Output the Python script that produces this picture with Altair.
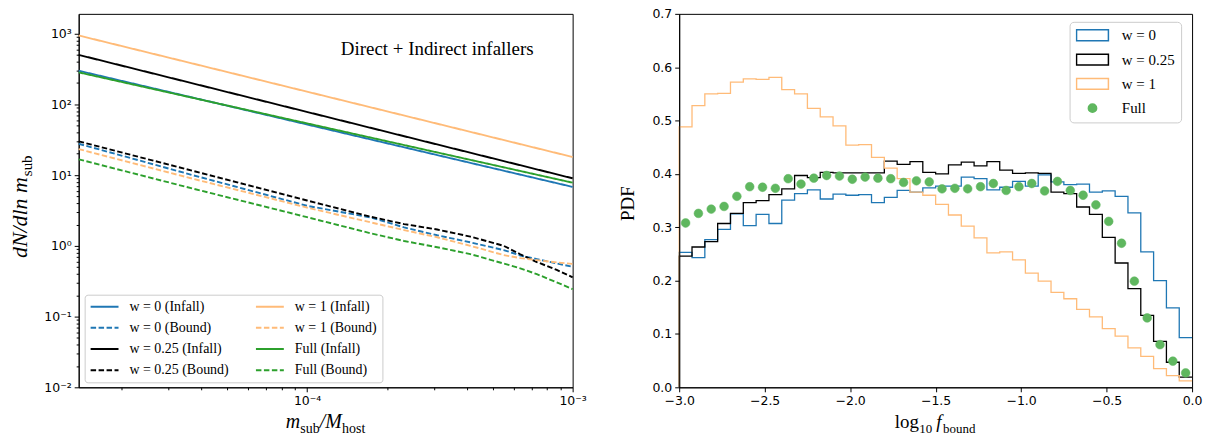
import altair as alt
import pandas as pd
import numpy as np

# ------------------------------------------------------------------
# Left panel: subhalo mass functions
# ------------------------------------------------------------------
m_solid = [1.38e-5, 1.0e-3]
w0_infall = [298.0, 6.8]
w025_infall = [500.0, 9.0]
w1_infall = [940.0, 18.0]
full_infall = [283.0, 7.8]

m_bound = [1.38e-5, 3.7e-5, 1.0e-4, 1.74e-4, 2.32e-4, 3.09e-4,
           4.12e-4, 5.5e-4, 6.35e-4, 7.33e-4, 8.71e-4, 1.0e-3]
w0_bound = [27.7, 10.0, 3.68, 2.51, 1.82, 1.41, 1.12, 0.871, 0.73, 0.649, 0.564, 0.505]
w025_bound = [30.0, 11.5, 4.37, 2.57, 2.03, 1.70, 1.35, 1.0, 0.76, 0.59, 0.457, 0.359]
w1_bound = [23.3, 8.9, 3.47, 2.14, 1.67, 1.32, 1.0, 0.74, 0.67, 0.628, 0.582, 0.556]
full_bound = [16.7, 6.46, 2.54, 1.50, 1.17, 0.955, 0.764, 0.562, 0.48, 0.398, 0.305, 0.244]

# legend order (Vega fills the 2 legend columns one after the other)
left_names = ["w = 0 (Infall)", "w = 0 (Bound)", "w = 0.25 (Infall)", "w = 0.25 (Bound)",
              "w = 1 (Infall)", "w = 1 (Bound)", "Full (Infall)", "Full (Bound)"]
BLUE, ORANGE, BLACK, GREEN = "#1f77b4", "#ffbb78", "#000000", "#2ca02c"
left_colors = [BLUE, BLUE, BLACK, BLACK, ORANGE, ORANGE, GREEN, GREEN]
SOLID, DASH = [1, 0], [5.5, 2.5]
left_dashes = [SOLID, DASH, SOLID, DASH, SOLID, DASH, SOLID, DASH]

# ------------------------------------------------------------------
# Right panel: PDF of log10 f_bound (40 bins between -3 and 0)
# ------------------------------------------------------------------
bin_lo, bin_hi, n_bins = -3.0, 0.0, 40
w0_pdf = [0.253, 0.243, 0.277, 0.296, 0.325, 0.303, 0.324, 0.307, 0.351, 0.363,
          0.370, 0.353, 0.362, 0.360, 0.361, 0.346, 0.356, 0.369, 0.366, 0.374,
          0.377, 0.377, 0.394, 0.391, 0.370, 0.375, 0.386, 0.377, 0.398, 0.385,
          0.380, 0.381, 0.366, 0.368, 0.358, 0.327, 0.254, 0.200, 0.149, 0.093]
w025_pdf = [0.246, 0.263, 0.273, 0.307, 0.326, 0.346, 0.350, 0.361, 0.372, 0.397,
            0.393, 0.403, 0.402, 0.402, 0.402, 0.402, 0.424, 0.418, 0.423, 0.403,
            0.400, 0.417, 0.422, 0.415, 0.423, 0.407, 0.401, 0.402, 0.401, 0.366,
            0.363, 0.338, 0.324, 0.281, 0.233, 0.185, 0.135, 0.086, 0.047, 0.019]
w1_pdf = [0.488, 0.528, 0.550, 0.551, 0.572, 0.578, 0.577, 0.581, 0.558, 0.550,
          0.523, 0.507, 0.490, 0.454, 0.455, 0.431, 0.411, 0.391, 0.366, 0.360,
          0.343, 0.323, 0.302, 0.280, 0.252, 0.254, 0.239, 0.214, 0.199, 0.178,
          0.166, 0.146, 0.132, 0.110, 0.096, 0.074, 0.058, 0.035, 0.022, 0.012]
full_pdf = [0.308, 0.326, 0.334, 0.339, 0.358, 0.376, 0.375, 0.373, 0.391, 0.381,
            0.392, 0.397, 0.396, 0.390, 0.394, 0.392, 0.391, 0.384, 0.387, 0.385,
            0.372, 0.373, 0.372, 0.376, 0.382, 0.369, 0.376, 0.382, 0.368, 0.386,
            0.369, 0.360, 0.342, 0.311, 0.270, 0.199, 0.130, 0.080, 0.049, 0.027]
right_names = ["w = 0", "w = 0.25", "w = 1", "Full"]
GREEN_PT = "#5fb75f"
right_stroke = [BLUE, BLACK, ORANGE, GREEN_PT]
right_fill = ["transparent", "transparent", "transparent", GREEN_PT]
RECT = "M-1,-0.34H1V0.34H-1Z"
CIRC = "M0.26,0A0.26,0.26,0,1,1,-0.26,0A0.26,0.26,0,1,1,0.26,0Z"
right_shapes = [RECT, RECT, RECT, CIRC]

# ticks
y_major = [0.01, 0.1, 1, 10, 100, 1000]
y_major_lab = ["10⁻²", "10⁻¹", "10⁰", "10¹", "10²", "10³"]
y_minor = [k * 10.0 ** e for e in range(-2, 3) for k in range(2, 10)]
x_major = [0.0001, 0.001]
x_major_lab = ["10⁻⁴", "10⁻³"]
x_minor = [k * 10.0 ** e for e in (-5, -4) for k in range(2, 10)]
pdf_ticks = [0.0, 0.1, 0.2, 0.3, 0.4, 0.5, 0.6, 0.7]
fb_ticks = [-3.0, -2.5, -2.0, -1.5, -1.0, -0.5, 0.0]

SERIF = "Liberation Serif"
SANS = "DejaVu Sans"
W_L, W_R, H = 496, 515, 375
GAP = 107

# ------------------------------------------------------------------
# data frames
# ------------------------------------------------------------------
rows = []
def add(name, xs, ys):
    for i, (x, y) in enumerate(zip(xs, ys)):
        rows.append({"series": name, "m": x, "n": y, "idx": i})

add("w = 0 (Infall)", m_solid, w0_infall)
add("w = 0.25 (Infall)", m_solid, w025_infall)
add("w = 1 (Infall)", m_solid, w1_infall)
add("Full (Infall)", m_solid, full_infall)
add("w = 0 (Bound)", m_bound, w0_bound)
add("w = 0.25 (Bound)", m_bound, w025_bound)
add("w = 1 (Bound)", m_bound, w1_bound)
add("Full (Bound)", m_bound, full_bound)
df_left = pd.DataFrame(rows)

edges = np.round(np.linspace(bin_lo, bin_hi, n_bins + 1), 4)
centers = (edges[:-1] + edges[1:]) / 2
srows = []
for name, vals in (("w = 0", w0_pdf), ("w = 0.25", w025_pdf), ("w = 1", w1_pdf)):
    pts = [(bin_lo, 0.0)] + [(edges[i], vals[i]) for i in range(n_bins)] + [(bin_hi, vals[-1])]
    for i, (x, y) in enumerate(pts):
        srows.append({"series": name, "x": float(x), "p": y, "idx": i})
df_steps = pd.DataFrame(srows)
df_pts = pd.DataFrame({"series": "Full", "x": centers, "p": full_pdf})

one = pd.DataFrame({"a": [0]})


def lab_expr(vals, labs):
    s = "''"
    for v, l in reversed(list(zip(vals, labs))):
        s = f"datum.value == {v} ? '{l}' : ({s})"
    return s


def major_test(vals):
    return "indexof([" + ",".join(str(v) for v in vals) + "], datum.value) >= 0"


def txt(t, x, y, size=19, style="normal", align="left", angle=0, baseline="alphabetic"):
    return alt.Chart(one).mark_text(
        text=t, font=SERIF, fontSize=size, fontStyle=style, align=align,
        baseline=baseline, angle=angle, color="black"
    ).encode(x=alt.value(x), y=alt.value(y))


# ------------------------------------------------------------------
# left chart
# ------------------------------------------------------------------
left_legend = alt.Legend(
    title=None, orient="none", legendX=6, legendY=282, columns=2,
    symbolType="stroke", symbolSize=784, symbolStrokeWidth=2, clipHeight=14,
    labelFont=SERIF, labelFontSize=14, labelColor="black", labelOffset=10,
    rowPadding=7.3, columnPadding=26, padding=5,
    fillColor="white", strokeColor="#cccccc", cornerRadius=3,
)

left_lines = alt.Chart(df_left).mark_line(strokeWidth=1.9).encode(
    x=alt.X("m:Q", scale=alt.Scale(type="log", domain=[1.38e-5, 1e-3], nice=False),
            axis=alt.Axis(values=x_major + x_minor, labelExpr=lab_expr(x_major, x_major_lab),
                          tickSize={"condition": {"test": major_test(x_major), "value": 4.5}, "value": 2.5},
                          title=None, labelOverlap=False, labelFlush=False)),
    y=alt.Y("n:Q", scale=alt.Scale(type="log", domain=[0.01, 1900], nice=False),
            axis=alt.Axis(values=y_major + y_minor, labelExpr=lab_expr(y_major, y_major_lab),
                          tickSize={"condition": {"test": major_test(y_major), "value": 4.5}, "value": 2.5},
                          title=None, labelOverlap=False, labelFlush=False)),
    color=alt.Color("series:N", scale=alt.Scale(domain=left_names, range=left_colors), legend=left_legend),
    strokeDash=alt.StrokeDash("series:N", scale=alt.Scale(domain=left_names, range=left_dashes), legend=left_legend),
    order="idx:Q",
)

left_texts = [
    txt("Direct + Indirect infallers", 360, 41, size=19, align="center"),
    # x title: m_sub / M_host
    txt("m", 208, 416, size=20, style="italic"),
    txt("sub", 222.5, 421, size=14),
    txt("/M", 242, 416, size=20, style="italic"),
    txt("host", 264.5, 421, size=14),
    # y title: dN / dln m_sub
    txt("dN/dln m", -52, 164, size=22, style="italic", align="right", angle=270),
    txt("sub", -47, 163, size=15, align="left", angle=270),
]

left = alt.layer(left_lines, *left_texts).properties(width=W_L, height=H)

# ------------------------------------------------------------------
# right chart (its legend is laid out from the first panel's origin)
# ------------------------------------------------------------------
right_legend = alt.Legend(
    title=None, orient="none", legendX=W_L + GAP + 392, legendY=8,
    symbolSize=1024, symbolStrokeWidth=1.5, clipHeight=15,
    labelFont=SERIF, labelFontSize=15, labelColor="black", labelOffset=12.5,
    rowPadding=8.4, padding=6,
    fillColor="white", strokeColor="#cccccc", cornerRadius=4,
)

xr = alt.X("x:Q", scale=alt.Scale(domain=[bin_lo, bin_hi], nice=False, zero=False),
           axis=alt.Axis(values=fb_ticks, format=".1f", title=None, labelFlush=False, tickSize=4.5, zindex=1))
yr = alt.Y("p:Q", scale=alt.Scale(domain=[0, 0.7], nice=False),
           axis=alt.Axis(values=pdf_ticks, format=".1f", title=None, labelFlush=False, tickSize=4.5, zindex=1))

stroke_scale = alt.Scale(domain=right_names, range=right_stroke)

steps = alt.Chart(df_steps).mark_line(interpolate="step-after", strokeWidth=1.3).encode(
    x=xr, y=yr,
    stroke=alt.Stroke("series:N", scale=stroke_scale, legend=right_legend),
    order="idx:Q",
)

points = alt.Chart(df_pts).mark_point(size=1150, opacity=1, strokeWidth=0.5).encode(
    x=alt.X("x:Q"), y=alt.Y("p:Q"),
    stroke=alt.Stroke("series:N", scale=stroke_scale, legend=right_legend),
    fill=alt.Fill("series:N", scale=alt.Scale(domain=right_names, range=right_fill), legend=right_legend),
    shape=alt.Shape("series:N", scale=alt.Scale(domain=right_names, range=right_shapes), legend=right_legend),
)

right_texts = [
    txt("log", 216.5, 416),
    txt("10", 241, 421, size=13),
    txt("f", 258, 416, style="italic"),
    txt("bound", 265, 421, size=13),
    txt("PDF", -45, H / 2 + 3, align="center", angle=270),
]

right = alt.layer(steps, points, *right_texts).properties(width=W_R, height=H)

chart = alt.hconcat(left, right, spacing=GAP, bounds="flush").properties(
    padding={"left": 8, "top": 6, "right": 5, "bottom": 2}
).configure_view(
    stroke="black", strokeWidth=1
).configure_axis(
    labelFont=SANS, labelFontSize=12.5, labelColor="black", labelPadding=3,
    tickColor="black", tickWidth=1, domainColor="black", domainWidth=1, grid=False,
)

chart.save("out.html", embed_options={"renderer": "svg", "actions": False})
